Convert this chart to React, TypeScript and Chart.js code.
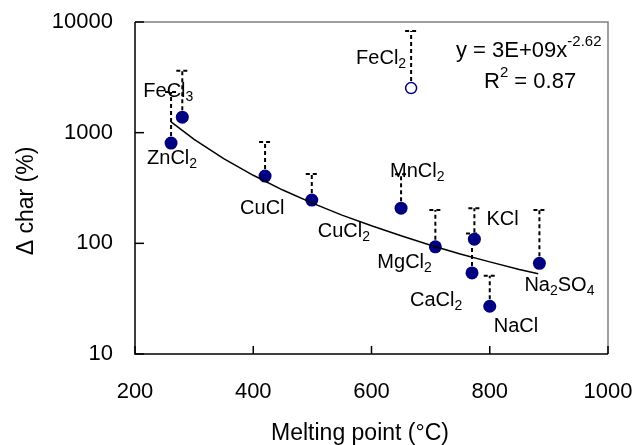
import React, { useEffect, useRef } from 'react';
import { Chart, registerables } from 'chart.js';

Chart.register(...registerables);

const FF = '"Liberation Sans", Arial, sans-serif';

// Data
const compounds = ['ZnCl_2', 'FeCl_3', 'CuCl', 'CuCl_2', 'MnCl_2', 'MgCl_2', 'KCl', 'CaCl_2', 'NaCl', 'Na_2SO_4'];
const meltingPoint = [261, 280, 420, 499, 650, 708, 774, 770, 800, 884];
const deltaChar = [805, 1380, 405, 246, 208, 93, 109, 54, 27, 66];
const deltaCharUpper = [2330, 3630, 822, 423, 420, 200, 208, 123, 51, 200];

const outlierNames = ['FeCl_2'];
const outlierMeltingPoint = [667];
const outlierDeltaChar = [2530];
const outlierUpper = [8280];

const trendX = [261, 300, 350, 400, 450, 500, 550, 600, 650, 700, 750, 800, 850, 882];
const trendY = [1250, 870, 583, 412, 303, 231, 180, 144, 117, 96, 80, 68, 58, 53];

const xTicks = [200, 400, 600, 800, 1000];
const yTicks = [10, 100, 1000, 10000];

const xTitle = 'Melting point (°C)';
const yTitle = 'Δ char (%)';
const eqMain = 'y = 3E+09x';
const eqExp = '-2.62';
const r2Text = ' = 0.87';

// label offsets (px) relative to their point
const labelOffsets = [[-24, 21], [-39, -20], [-25, 38], [6, 37], [-11, -31], [-58, 21], [12, -14], [-62, 33], [4, 26], [-15, 28]];
const outlierLabelOffsets = [[-55, -24]];

function drawRich(ctx: CanvasRenderingContext2D, s: string, x: number, y: number, size: number) {
  const parts: { t: string; sub: boolean }[] = [];
  const re = /_(\d)/g;
  let last = 0;
  let m: RegExpExecArray | null;
  while ((m = re.exec(s))) {
    parts.push({ t: s.slice(last, m.index), sub: false });
    parts.push({ t: m[1], sub: true });
    last = re.lastIndex;
  }
  parts.push({ t: s.slice(last), sub: false });
  let cx = x;
  for (const p of parts) {
    if (!p.t) continue;
    ctx.font = p.sub ? `${Math.round(size * 0.7)}px ${FF}` : `${size}px ${FF}`;
    ctx.fillText(p.t, cx, p.sub ? y + size * 0.2 : y);
    cx += ctx.measureText(p.t).width;
  }
}

const decorPlugin = {
  id: 'decor',
  beforeDatasetsDraw(chart: any) {
    const ctx = chart.ctx as CanvasRenderingContext2D;
    const xs = chart.scales.x;
    const ys = chart.scales.y;
    const bars = (xv: number[], yv: number[], uv: number[]) => {
      for (let i = 0; i < xv.length; i++) {
        const px = xs.getPixelForValue(xv[i]);
        const py = ys.getPixelForValue(yv[i]);
        const pu = ys.getPixelForValue(uv[i]);
        ctx.save();
        ctx.strokeStyle = '#000';
        ctx.lineWidth = 2;
        ctx.setLineDash([4, 3]);
        ctx.beginPath();
        ctx.moveTo(px, py);
        ctx.lineTo(px, pu);
        ctx.stroke();
        ctx.beginPath();
        ctx.moveTo(px - 6, pu);
        ctx.lineTo(px + 6, pu);
        ctx.stroke();
        ctx.restore();
      }
    };
    bars(meltingPoint, deltaChar, deltaCharUpper);
    bars(outlierMeltingPoint, outlierDeltaChar, outlierUpper);
  },
  afterDatasetsDraw(chart: any) {
    const ctx = chart.ctx as CanvasRenderingContext2D;
    const { left, right, top, bottom } = chart.chartArea;
    const xs = chart.scales.x;
    const ys = chart.scales.y;
    ctx.save();
    // frame
    ctx.lineWidth = 1.5;
    ctx.strokeStyle = '#808080';
    ctx.beginPath();
    ctx.moveTo(left, top);
    ctx.lineTo(right, top);
    ctx.lineTo(right, bottom);
    ctx.stroke();
    ctx.strokeStyle = '#000';
    ctx.beginPath();
    ctx.moveTo(left, top);
    ctx.lineTo(left, bottom);
    ctx.lineTo(right, bottom);
    ctx.stroke();
    // inward ticks
    ctx.lineWidth = 1.5;
    for (const v of yTicks) {
      const p = ys.getPixelForValue(v);
      ctx.beginPath();
      ctx.moveTo(left, p);
      ctx.lineTo(left + 9, p);
      ctx.stroke();
    }
    for (const v of xTicks) {
      const p = xs.getPixelForValue(v);
      ctx.beginPath();
      ctx.moveTo(p, bottom);
      ctx.lineTo(p, bottom - 8);
      ctx.stroke();
    }
    // point labels
    ctx.fillStyle = '#000';
    ctx.textBaseline = 'alphabetic';
    ctx.textAlign = 'left';
    for (let i = 0; i < compounds.length; i++) {
      const px = xs.getPixelForValue(meltingPoint[i]);
      const py = ys.getPixelForValue(deltaChar[i]);
      drawRich(ctx, compounds[i], px + labelOffsets[i][0], py + labelOffsets[i][1], 20);
    }
    for (let i = 0; i < outlierNames.length; i++) {
      const px = xs.getPixelForValue(outlierMeltingPoint[i]);
      const py = ys.getPixelForValue(outlierDeltaChar[i]);
      drawRich(ctx, outlierNames[i], px + outlierLabelOffsets[i][0], py + outlierLabelOffsets[i][1], 20);
    }
    // equation
    ctx.font = `22px ${FF}`;
    ctx.fillText(eqMain, 456, 57);
    const w = ctx.measureText(eqMain).width;
    ctx.font = `15px ${FF}`;
    ctx.fillText(eqExp, 456 + w, 46);
    ctx.font = `22px ${FF}`;
    ctx.fillText('R', 484, 88);
    const wr = ctx.measureText('R').width;
    ctx.font = `15px ${FF}`;
    ctx.fillText('2', 484 + wr, 77);
    const w2 = ctx.measureText('2').width;
    ctx.font = `22px ${FF}`;
    ctx.fillText(r2Text, 484 + wr + w2, 88);
    // axis titles
    ctx.font = `23px ${FF}`;
    ctx.textAlign = 'center';
    ctx.fillText(xTitle, 360, 440);
    ctx.translate(33, 201);
    ctx.rotate(-Math.PI / 2);
    ctx.fillText(yTitle, 0, 0);
    ctx.restore();
  },
};

const zeroPad = (s: any) => {
  s.paddingLeft = 0;
  s.paddingRight = 0;
  s.paddingTop = 0;
  s.paddingBottom = 0;
};

export default function App() {
  const ref = useRef<HTMLCanvasElement | null>(null);
  useEffect(() => {
    if (!ref.current) return;
    const chart = new Chart(ref.current, {
      type: 'scatter',
      data: {
        datasets: [
          {
            label: 'trend',
            data: trendX.map((x, i) => ({ x, y: trendY[i] })),
            showLine: true,
            borderColor: '#000',
            borderWidth: 1.5,
            pointRadius: 0,
            tension: 0,
          } as any,
          {
            label: 'salts',
            data: meltingPoint.map((x, i) => ({ x, y: deltaChar[i] })),
            pointRadius: 6.5,
            backgroundColor: '#000080',
            borderColor: '#000080',
            borderWidth: 0,
          },
          {
            label: 'FeCl2',
            data: outlierMeltingPoint.map((x, i) => ({ x, y: outlierDeltaChar[i] })),
            pointRadius: 5.5,
            backgroundColor: '#ffffff',
            borderColor: '#000080',
            borderWidth: 1.5,
          },
        ],
      },
      options: {
        animation: false,
        responsive: false,
        devicePixelRatio: 1,
        layout: { padding: { left: 0, top: 22, right: 29, bottom: 0 } },
        plugins: { legend: { display: false }, tooltip: { enabled: false } },
        scales: {
          x: {
            type: 'linear',
            min: 200,
            max: 1000,
            afterBuildTicks: (s: any) => { s.ticks = xTicks.map((v) => ({ value: v })); },
            afterFit: (s: any) => { s.height = 91; zeroPad(s); },
            grid: { display: false, drawTicks: false },
            border: { display: false },
            ticks: {
              callback: (v: any) => String(v),
              font: { size: 22, family: FF },
              color: '#000',
              padding: 25,
              maxRotation: 0,
              autoSkip: false,
            },
          },
          y: {
            type: 'logarithmic',
            min: 10,
            max: 10000,
            afterBuildTicks: (s: any) => { s.ticks = yTicks.map((v) => ({ value: v })); },
            afterFit: (s: any) => { s.width = 135; zeroPad(s); },
            grid: { display: false, drawTicks: false },
            border: { display: false },
            ticks: {
              callback: (v: any) => String(v),
              font: { size: 22, family: FF },
              color: '#000',
              padding: 22,
              autoSkip: false,
            },
          },
        },
      },
      plugins: [decorPlugin],
    });
    return () => chart.destroy();
  }, []);
  return (
    <div style={{ position: 'fixed', left: 0, top: 0, width: 637, height: 445, background: '#fff' }}>
      <canvas ref={ref} width={637} height={445} style={{ display: 'block' }} />
    </div>
  );
}
